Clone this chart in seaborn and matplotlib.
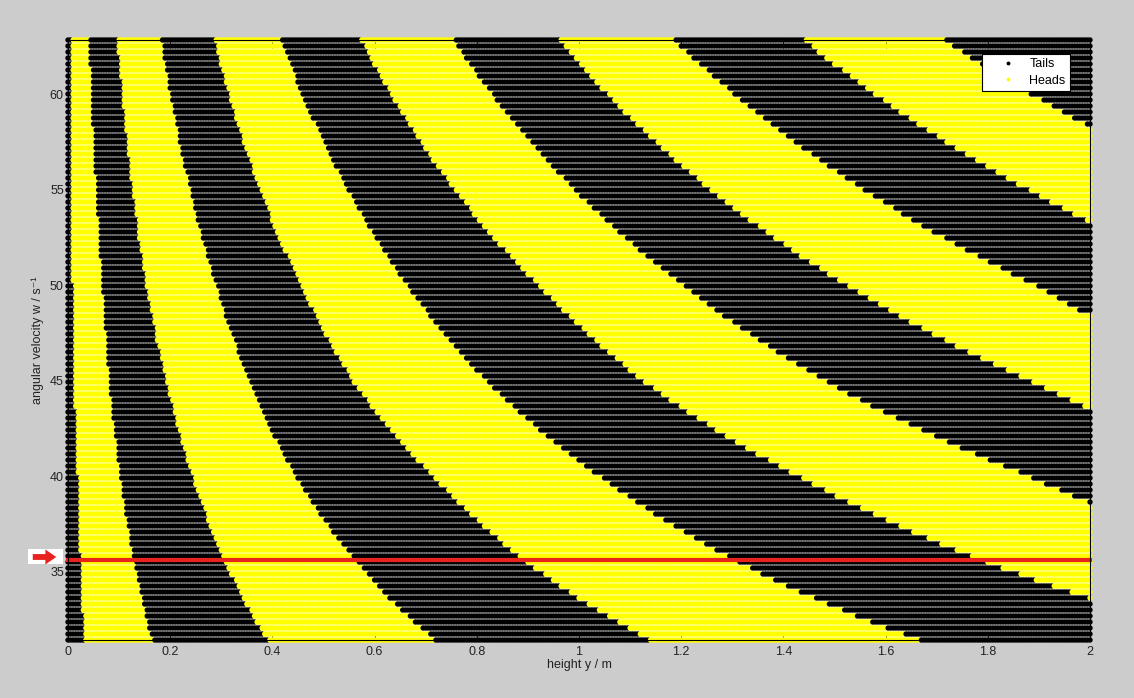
import numpy as np
import pandas as pd
import matplotlib
matplotlib.use("Agg")
import matplotlib.pyplot as plt
import seaborn as sns
from matplotlib.lines import Line2D
from matplotlib.patches import Rectangle, FancyArrowPatch
from matplotlib.transforms import IdentityTransform

# ---------------- data ----------------
# simulation grid: rows of angular velocity, columns of drop height
W_MIN, W_MAX, N_ROWS = 10 * np.pi, 20 * np.pi, 101
Y_MIN, Y_MAX, N_COLS = 0.0, 2.0, 401

# heights (m) where the outcome flips at these w levels
w_levels = [31.4, 40.0, 45.0, 50.0, 62.8]
boundary_heights = [
    [0.033, 0.020, 0.013, 0.010, 0.008],
    [0.166, 0.104, 0.082, 0.069, 0.043],
    [0.392, 0.245, 0.193, 0.154, 0.098],
    [0.720, 0.447, 0.356, 0.291, 0.184],
    [1.140, 0.715, 0.558, 0.457, 0.288],
    [1.670, 1.041, 0.819, 0.665, 0.419],
    [np.nan, 1.430, 1.126, 0.921, 0.575],
    [np.nan, 1.880, 1.482, 1.204, 0.757],
    [np.nan, np.nan, 1.883, 1.524, 0.963],
    [np.nan, np.nan, np.nan, 1.892, 1.188],
    [np.nan, np.nan, np.nan, np.nan, 1.442],
    [np.nan, np.nan, np.nan, np.nan, 1.716],
]
# w at which each boundary leaves the plot through the right edge (y = 2 m)
edge_crossing_w = [np.nan] * 6 + [33.6, 38.6, 43.5, 48.4, 53.3, 58.3]

outcomes = ["Tails", "Heads"]
outcome_colors = ["#000000", "#ffff00"]

marked_w = 35.6                      # highlighted angular velocity (red line)

x_ticks = [0, 0.2, 0.4, 0.6, 0.8, 1.0, 1.2, 1.4, 1.6, 1.8, 2.0]
x_tick_labels = ["0", "0.2", "0.4", "0.6", "0.8", "1", "1.2", "1.4", "1.6", "1.8", "2"]
y_ticks = [35, 40, 45, 50, 55, 60]
y_tick_labels = ["35", "40", "45", "50", "55", "60"]

# ---------------- classify grid ----------------
w_rows = np.linspace(W_MIN, W_MAX, N_ROWS)
y_cols = np.linspace(Y_MIN, Y_MAX, N_COLS)
u_levels = 1.0 / np.array(w_levels) ** 2

recs_w, recs_y, recs_side = [], [], []
for w in w_rows:
    u = 1.0 / w ** 2
    bnds = []
    for hs, cw in zip(boundary_heights, edge_crossing_w):
        hs = np.array(hs)
        ok = ~np.isnan(hs)
        pu = list(u_levels[ok])
        ph = list(hs[ok])
        if not np.isnan(cw):
            pu.append(1.0 / cw ** 2)
            ph.append(Y_MAX)
        pu = np.array(pu)
        ph = np.array(ph)
        order = np.argsort(pu)
        right = np.inf if not np.isnan(cw) else ph[order][-1]
        bnds.append(np.interp(u, pu[order], ph[order], right=right))
    bnds = np.array(bnds)
    n_flip = (bnds[None, :] < y_cols[:, None]).sum(axis=1)
    side = np.where(n_flip % 2 == 0, outcomes[0], outcomes[1])
    recs_w.extend([w] * N_COLS)
    recs_y.extend(y_cols)
    recs_side.extend(side)

df = pd.DataFrame({"height": recs_y, "w": recs_w, "side": recs_side})

# ---------------- plot ----------------
plt.rcParams["font.family"] = ["Liberation Sans", "DejaVu Sans"]
fig = plt.figure(figsize=(11.34, 6.98), dpi=100, facecolor="#cccccc")
ax = fig.add_axes([68 / 1134, 58 / 698, 1022 / 1134, 600 / 698])
ax.set_facecolor("white")

sns.scatterplot(
    data=df, x="height", y="w", hue="side",
    hue_order=outcomes, palette=dict(zip(outcomes, outcome_colors)),
    marker="o", s=15, linewidth=0, legend=False, ax=ax, clip_on=False,
    zorder=2,
)

ax.axhline(marked_w, color="#e8221c", lw=3.0, zorder=3, clip_on=False)

ax.set_xlim(Y_MIN, Y_MAX)
ax.set_ylim(W_MIN, W_MAX)
ax.set_xticks(x_ticks)
ax.set_xticklabels(x_tick_labels)
ax.set_yticks(y_ticks)
ax.set_yticklabels(y_tick_labels)
ax.tick_params(direction="in", length=6, width=0.6, top=True, right=True,
               labelsize=9, labelcolor="#222222", colors="#000000", pad=4.5)
ax.tick_params(axis="y", pad=3, labelcolor="#222222")
for sp in ax.spines.values():
    sp.set_linewidth(0.8)
    sp.set_color("#000000")
    sp.set_zorder(4)

ax.set_xlabel("height y / m", fontsize=9, color="#222222")
ax.xaxis.set_label_coords(0.5, -0.032)
ax.set_ylabel("angular velocity w / s\u207b\u00b9", fontsize=9, color="#222222")
ax.yaxis.set_label_coords(-0.023, 0.5)

handles = [Line2D([], [], linestyle="none", marker="o", markersize=2.8,
                  markerfacecolor=c, markeredgewidth=0) for c in outcome_colors]
leg = ax.legend(handles, outcomes, loc="upper right",
                bbox_to_anchor=(0.9804, 0.9767), borderaxespad=0,
                fontsize=9, frameon=True, fancybox=False, framealpha=1,
                edgecolor="#000000", handlelength=3.4, handletextpad=0.0,
                borderpad=0.35, labelspacing=0.35)
leg.get_frame().set_linewidth(0.8)
leg.set_zorder(5)

# red arrow marker outside the axes (white box)
fig.add_artist(Rectangle((28, 698 - 564), 35, 15, transform=IdentityTransform(),
                         facecolor="white", edgecolor="none", zorder=10))
fig.add_artist(FancyArrowPatch((30, 698 - 557), (59, 698 - 557),
                               transform=IdentityTransform(),
                               arrowstyle="simple,head_length=0.65,head_width=0.9,tail_width=0.35",
                               mutation_scale=12, color="#e8221c",
                               linewidth=0, zorder=11))

fig.savefig("out.png", dpi=100, facecolor=fig.get_facecolor())
